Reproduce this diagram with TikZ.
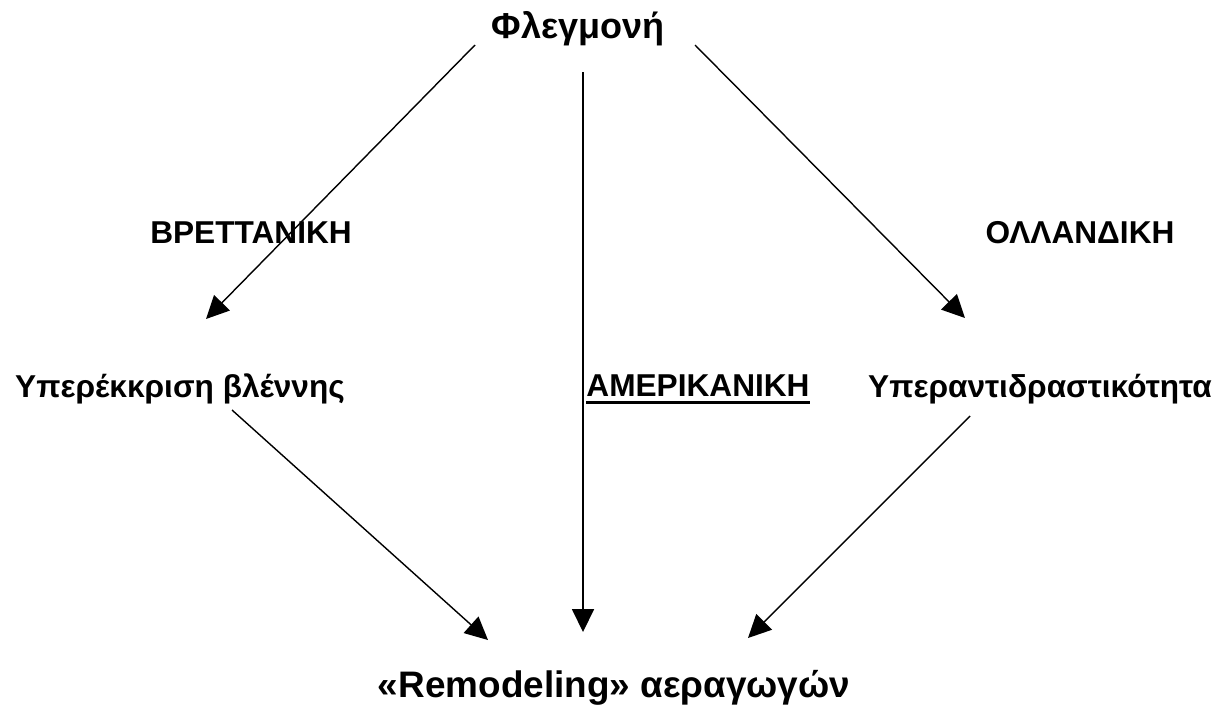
\documentclass[tikz,border=0pt]{standalone}
\usepackage{fontspec}
\setmainfont{Liberation Sans}
\usetikzlibrary{arrows.meta}

\tikzset{
  label/.style={font=\bfseries\fontsize{18}{21}\selectfont, inner sep=0pt, anchor=base},
  title/.style={font=\bfseries\fontsize{20.5}{24}\selectfont, inner sep=0pt, anchor=base},
  link/.style={line width=0.8pt, -{Triangle[length=13pt, width=12.5pt]}}
}

\begin{document}
\begin{tikzpicture}[x=0.02cm, y=-0.02cm]
        % Page
        \useasboundingbox (0,0) rectangle (1223,721);

        % Nodes
        \node[title] (fleg) at (578,38) {Φλεγμονή};
        \node[label] (bret) at (251,243) {ΒΡΕΤΤΑΝΙΚΗ};
        \node[label] (olla) at (1080,243) {ΟΛΛΑΝΔΙΚΗ};
        \node[label] (mucus) at (180,397) {Υπερέκκριση βλέννης};
        \node[label] (amer) at (698,396) {ΑΜΕΡΙΚΑΝΙΚΗ};
        \node[label] (hyper) at (1040,397) {Υπεραντιδραστικότητα};
        \node[title, font=\bfseries\fontsize{21}{25}\selectfont] (remod) at (614,697) {«Remodeling» αεραγωγών};

        % Underline
        \draw[line width=1.6pt] ([yshift=-3.5pt]amer.south west) -- ([yshift=-3.5pt]amer.south east);

        % Arrow Ends
        \coordinate (flegL) at (475,45);
        \coordinate (flegM) at (583,72);
        \coordinate (flegR) at (695,45);
        \coordinate (mucusIn) at (206,319);
        \coordinate (hyperIn) at (965,318);
        \coordinate (mucusOut) at (232,410);
        \coordinate (hyperOut) at (970,416);
        \coordinate (remodL) at (488,640);
        \coordinate (remodM) at (583,632);
        \coordinate (remodR) at (748,638);

        % Arrows
        \draw[link] (flegL) -- (mucusIn);
        \draw[link] (flegM) -- (remodM);
        \draw[link] (flegR) -- (hyperIn);
        \draw[link] (mucusOut) -- (remodL);
        \draw[link] (hyperOut) -- (remodR);

    \end{tikzpicture}
\end{document}
